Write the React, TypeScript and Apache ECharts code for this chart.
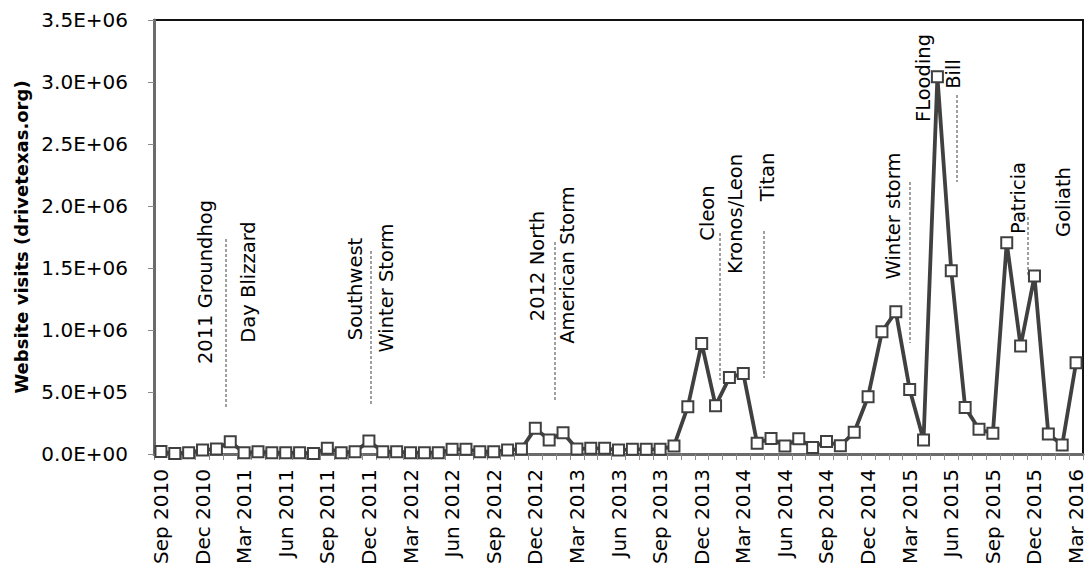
import React, { useEffect, useRef } from "react";
import * as echarts from "echarts";

const months = [
  "Sep 2010", "Oct 2010", "Nov 2010", "Dec 2010",
  "Jan 2011", "Feb 2011", "Mar 2011", "Apr 2011", "May 2011", "Jun 2011",
  "Jul 2011", "Aug 2011", "Sep 2011", "Oct 2011", "Nov 2011", "Dec 2011",
  "Jan 2012", "Feb 2012", "Mar 2012", "Apr 2012", "May 2012", "Jun 2012",
  "Jul 2012", "Aug 2012", "Sep 2012", "Oct 2012", "Nov 2012", "Dec 2012",
  "Jan 2013", "Feb 2013", "Mar 2013", "Apr 2013", "May 2013", "Jun 2013",
  "Jul 2013", "Aug 2013", "Sep 2013", "Oct 2013", "Nov 2013", "Dec 2013",
  "Jan 2014", "Feb 2014", "Mar 2014", "Apr 2014", "May 2014", "Jun 2014",
  "Jul 2014", "Aug 2014", "Sep 2014", "Oct 2014", "Nov 2014", "Dec 2014",
  "Jan 2015", "Feb 2015", "Mar 2015", "Apr 2015", "May 2015", "Jun 2015",
  "Jul 2015", "Aug 2015", "Sep 2015", "Oct 2015", "Nov 2015", "Dec 2015",
  "Jan 2016", "Feb 2016", "Mar 2016",
];

const visits = [
  20000, 5000, 11000, 32000, 40000, 99000, 11000, 19000, 11000, 11000, 11000, 5000, 46000, 11000, 19000, 105000,
  19000, 19000, 11000, 11000, 11000, 38000, 38000, 19000, 19000, 32000, 40000, 207000,
  113000, 172000, 40000, 46000, 46000, 32000, 38000, 38000, 38000, 65000, 382000, 892000,
  390000, 616000, 650000, 86000, 126000, 65000, 122000, 53000, 100000, 67000, 175000, 462000,
  986000, 1148000, 521000, 113000, 3043000, 1478000, 376000, 199000, 167000, 1704000, 871000, 1435000,
  161000, 73000, 736000,
];

const yTitle = "Website visits (drivetexas.org)";

const eventLabels = [
  "2011 Groundhog", "Day Blizzard", "Southwest", "Winter Storm",
  "2012 North", "American Storm", "Cleon", "Kronos/Leon", "Titan",
  "Winter storm", "FLooding", "Bill", "Patricia", "Goliath",
];

// layout (pixel centres) of the rotated event labels, same order as eventLabels
const labelLayout = [
  [205, 282], [248, 282], [355, 289], [386, 288],
  [537, 266], [567, 265], [707, 213], [735, 214], [767, 177],
  [893, 216], [923, 78], [953, 74], [1018, 198], [1063, 202],
];

// dashed leader lines [x, yTop, yBottom]
const leaderLayout = [
  [226, 239, 408], [371, 251, 404], [555, 242, 402], [720, 233, 380],
  [764, 231, 378], [910, 182, 343], [957, 95, 182], [1028, 217, 275],
];

const FONT = "DejaVu Sans";

function fmt(v: number): string {
  if (v === 0) return "0.0E+00";
  const e = Math.floor(Math.log10(v) + 1e-9);
  const m = v / Math.pow(10, e);
  return m.toFixed(1) + "E+" + String(e).padStart(2, "0");
}

export default function App() {
  const ref = useRef<HTMLDivElement>(null);
  useEffect(() => {
    if (!ref.current) return;
    const chart = echarts.init(ref.current, undefined, { renderer: "svg" });
    const graphics: any[] = [];
    leaderLayout.forEach(([x, y1, y2]) => {
      graphics.push({
        type: "line",
        shape: { x1: x, y1, x2: x, y2 },
        style: { stroke: "#404040", lineWidth: 1, lineDash: [3, 2] },
        z: 10,
      });
    });
    eventLabels.forEach((t, i) => {
      const [x, y] = labelLayout[i];
      graphics.push({
        type: "text",
        x,
        y,
        rotation: Math.PI / 2,
        style: {
          text: t,
          fontSize: 19.5,
          fontFamily: FONT,
          fill: "#000",
          align: "center",
          verticalAlign: "middle",
          textAlign: "center",
          textVerticalAlign: "middle",
        },
        z: 10,
      });
    });
    chart.setOption({
      animation: false,
      backgroundColor: "#fff",
      grid: {
        left: 154,
        right: 7,
        top: 20,
        bottom: 123,
        show: true,
        borderColor: "#111",
        borderWidth: 2,
        containLabel: false,
      },
      xAxis: {
        type: "category",
        data: months,
        boundaryGap: true,
        axisLine: { lineStyle: { color: "#6b6b6b", width: 3 } },
        axisTick: { show: true, interval: 0, length: 6, lineStyle: { color: "#8a8a8a", width: 1 } },
        axisLabel: {
          interval: 2,
          rotate: 90,
          fontSize: 20,
          fontFamily: FONT,
          color: "#000",
          margin: 15,
        },
        splitLine: { show: false },
      },
      yAxis: {
        type: "value",
        min: 0,
        max: 3500000,
        interval: 500000,
        name: yTitle,
        nameLocation: "middle",
        nameGap: 118,
        nameTextStyle: { fontSize: 18, fontWeight: "bold", fontFamily: FONT, color: "#000" },
        axisLine: { show: true, lineStyle: { color: "#6b6b6b", width: 3 } },
        axisTick: { show: true, length: 6, lineStyle: { color: "#8a8a8a", width: 1 } },
        axisLabel: { formatter: fmt, fontSize: 20, fontFamily: FONT, color: "#000", margin: 26 },
        splitLine: { show: false },
      },
      series: [
        {
          type: "line",
          data: visits,
          symbol: "rect",
          symbolSize: 11,
          showAllSymbol: true,
          lineStyle: { color: "#404040", width: 3.8 },
          itemStyle: { color: "#fff", borderColor: "#404040", borderWidth: 2 },
          z: 5,
        },
      ],
      graphic: graphics,
    });
    return () => chart.dispose();
  }, []);
  return (
    <div
      ref={ref}
      style={{ position: "fixed", left: 0, top: 0, width: 1090, height: 577, background: "#fff" }}
    />
  );
}
